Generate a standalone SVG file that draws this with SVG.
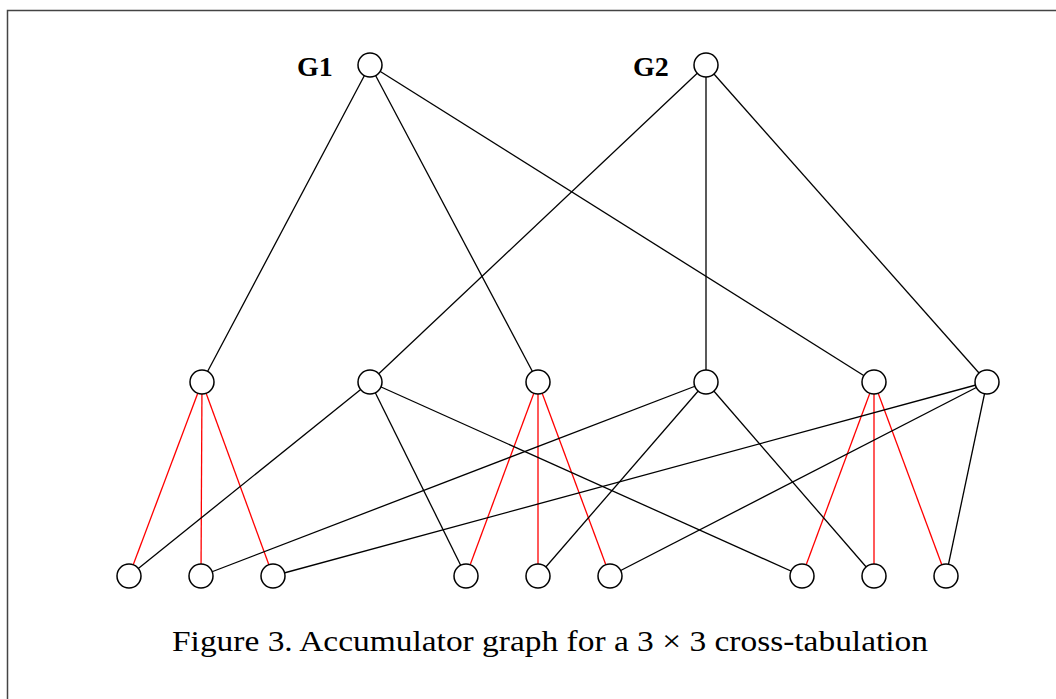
<svg xmlns="http://www.w3.org/2000/svg" width="1056" height="699" viewBox="0 0 1056 699">
<style>
.n{fill:#fff;stroke:#000;stroke-width:1.5}
.e{stroke:#000;stroke-width:1.3;fill:none}
.r{stroke:#f00;stroke-width:1.3;fill:none}
.lbl{font-family:"Liberation Serif",serif;font-weight:bold;font-size:28px}
.cap{font-family:"Liberation Serif",serif;font-size:30px}
</style>
<rect x="0" y="0" width="1056" height="699" fill="#fff"/>
<rect x="7.5" y="10.5" width="1060" height="700" fill="none" stroke="#444" stroke-width="1.5"/>
<g id="connectors">
<line class="e" x1="370" y1="65" x2="202" y2="382"/>
<line class="e" x1="370" y1="65" x2="538" y2="382"/>
<line class="e" x1="370" y1="65" x2="874" y2="382"/>
<line class="e" x1="706" y1="65" x2="370" y2="382"/>
<line class="e" x1="706" y1="65" x2="706" y2="382"/>
<line class="e" x1="706" y1="65" x2="987" y2="382"/>
<line class="r" x1="202" y1="382" x2="129" y2="576"/>
<line class="r" x1="202" y1="382" x2="201" y2="576"/>
<line class="r" x1="202" y1="382" x2="273" y2="576"/>
<line class="r" x1="538" y1="382" x2="466" y2="576"/>
<line class="r" x1="538" y1="382" x2="538" y2="576"/>
<line class="r" x1="538" y1="382" x2="610" y2="576"/>
<line class="r" x1="874" y1="382" x2="802" y2="576"/>
<line class="r" x1="874" y1="382" x2="874" y2="576"/>
<line class="r" x1="874" y1="382" x2="946" y2="576"/>
<line class="e" x1="370" y1="382" x2="129" y2="576"/>
<line class="e" x1="370" y1="382" x2="466" y2="576"/>
<line class="e" x1="370" y1="382" x2="802" y2="576"/>
<line class="e" x1="706" y1="382" x2="201" y2="576"/>
<line class="e" x1="706" y1="382" x2="538" y2="576"/>
<line class="e" x1="706" y1="382" x2="874" y2="576"/>
<line class="e" x1="987" y1="382" x2="273" y2="576"/>
<line class="e" x1="987" y1="382" x2="610" y2="576"/>
<line class="e" x1="987" y1="382" x2="946" y2="576"/>
</g>
<g id="G1"><circle class="n" cx="370" cy="65" r="12"/><text class="lbl" x="297" y="76">G1</text></g>
<g id="G2"><circle class="n" cx="706" cy="65" r="12"/><text class="lbl" x="633" y="76">G2</text></g>
<g id="m1"><circle class="n" cx="202" cy="382" r="12"/></g>
<g id="m2"><circle class="n" cx="370" cy="382" r="12"/></g>
<g id="m3"><circle class="n" cx="538" cy="382" r="12"/></g>
<g id="m4"><circle class="n" cx="706" cy="382" r="12"/></g>
<g id="m5"><circle class="n" cx="874" cy="382" r="12"/></g>
<g id="m6"><circle class="n" cx="987" cy="382" r="12"/></g>
<g id="b1"><circle class="n" cx="129" cy="576" r="12"/></g>
<g id="b2"><circle class="n" cx="201" cy="576" r="12"/></g>
<g id="b3"><circle class="n" cx="273" cy="576" r="12"/></g>
<g id="b4"><circle class="n" cx="466" cy="576" r="12"/></g>
<g id="b5"><circle class="n" cx="538" cy="576" r="12"/></g>
<g id="b6"><circle class="n" cx="610" cy="576" r="12"/></g>
<g id="b7"><circle class="n" cx="802" cy="576" r="12"/></g>
<g id="b8"><circle class="n" cx="874" cy="576" r="12"/></g>
<g id="b9"><circle class="n" cx="946" cy="576" r="12"/></g>
<text class="cap" x="550" y="651" text-anchor="middle" textLength="756" lengthAdjust="spacingAndGlyphs">Figure 3. Accumulator graph for a 3 × 3 cross-tabulation</text>
</svg>
